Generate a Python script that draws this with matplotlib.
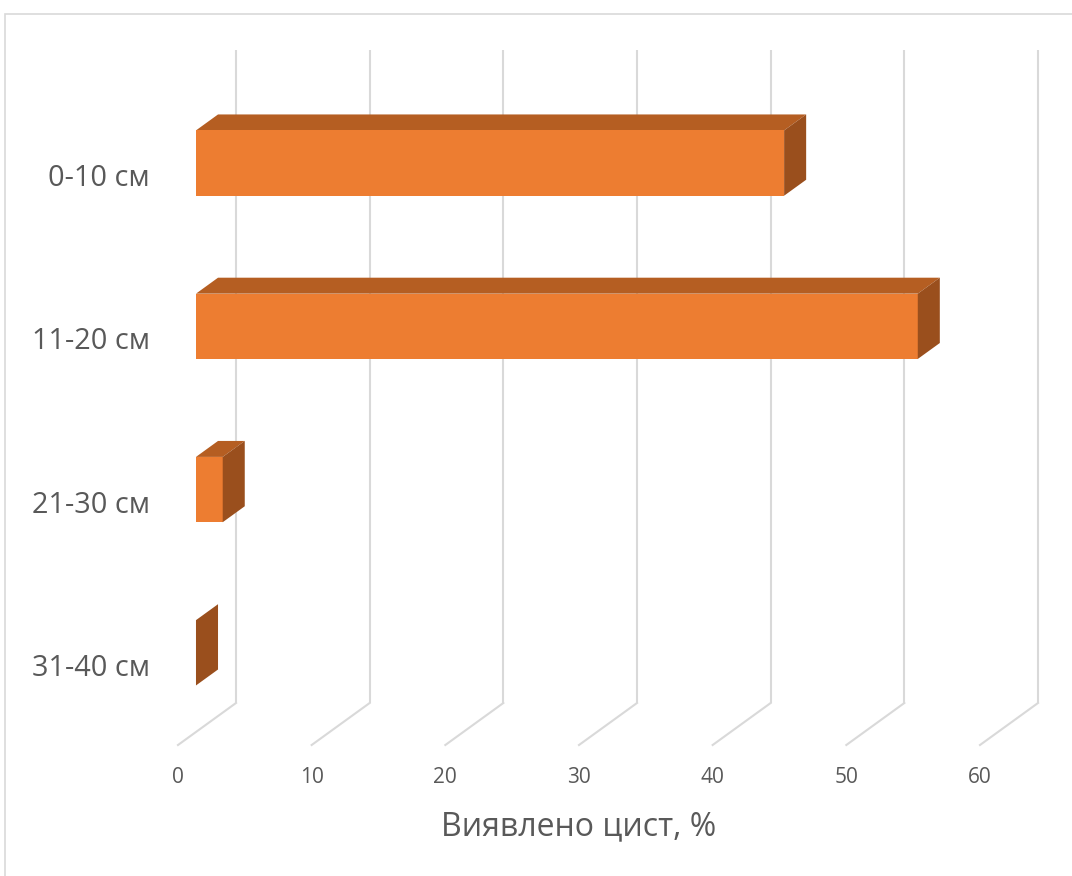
import matplotlib
matplotlib.use('Agg')
import matplotlib.pyplot as plt
from matplotlib.patches import Rectangle
import numpy as np

plt.rcParams['font.family'] = ['Open Sans', 'DejaVu Sans']

# data
categories = ['0-10 см', '11-20 см', '21-30 см', '31-40 см']
values = [44, 54, 2, 0]
ticks = [0, 10, 20, 30, 40, 50, 60]
xlabel = 'Виявлено цист, %'

# colours
c_front = '#ED7D31'
c_top = '#B55E22'
c_side = '#9A4F1D'
c_grid = '#D9D9D9'
c_text = '#595959'

W, H = 1072, 876
fig = plt.figure(figsize=(W / 100, H / 100), dpi=100)

# front plane of the 3d box (pixels): x 178..980, y 92..745
x0, x1 = 178, 980
yt, yb = 92, 745
ax = fig.add_axes([x0 / W, 1 - yb / H, (x1 - x0) / W, (yb - yt) / H])
ax.set_xlim(0, 60)
ax.set_ylim(3.5, -0.5)
ax.axis('off')

# depth of the box (back wall offset) in data units
px_x = (x1 - x0) / 60.0
px_y = (yb - yt) / 4.0
DX = 58 / px_x
DY = 42 / px_y


def proj(x, y, d):
    return x + d * DX, y - d * DY


# back wall gridlines + floor diagonals
for t in ticks:
    bx, by_top = proj(t, -0.5, 1)
    _, by_bot = proj(t, 3.5, 1)
    ax.plot([bx, bx], [by_top, by_bot], color=c_grid, lw=1.5, clip_on=False,
            zorder=1, solid_capstyle='butt')
    ax.plot([t, bx], [3.5, by_bot], color=c_grid, lw=1.5, clip_on=False, zorder=1)
    ax.text(t, 3.7, str(t), ha='center', va='center', fontsize=15, color=c_text)

# bars
d_front, d_back = 0.31, 0.69
half = 0.2
shift = 0.015
for i, v in enumerate(values):
    y_top = i - half + shift
    y_bot = i + half + shift
    # top face
    pts = [proj(0, y_top, d_front), proj(v, y_top, d_front),
           proj(v, y_top, d_back), proj(0, y_top, d_back)]
    if v > 0:
        ax.fill(*zip(*pts), color=c_top, lw=0, zorder=2, clip_on=False)
        pts = [proj(0, y_top, d_front), proj(v, y_top, d_front),
               proj(v, y_bot, d_front), proj(0, y_bot, d_front)]
        ax.fill(*zip(*pts), color=c_front, lw=0, zorder=3, clip_on=False)
    # side face
    pts = [proj(v, y_top, d_front), proj(v, y_top, d_back),
           proj(v, y_bot, d_back), proj(v, y_bot, d_front)]
    ax.fill(*zip(*pts), color=c_side, lw=0, zorder=3, clip_on=False)

    ax.text(-2.1, i + 0.03, categories[i], ha='right', va='center',
            fontsize=20.8, color=c_text)

ax.text(30, 4.0, xlabel, ha='center', va='center', fontsize=23, color=c_text)

# chart border
fig.patches.append(Rectangle((5 / W, -0.1), 1.2, 1 - 14 / H + 0.1,
                             transform=fig.transFigure, fill=False,
                             edgecolor=c_grid, lw=1.2))

fig.savefig('out.png', dpi=100)
